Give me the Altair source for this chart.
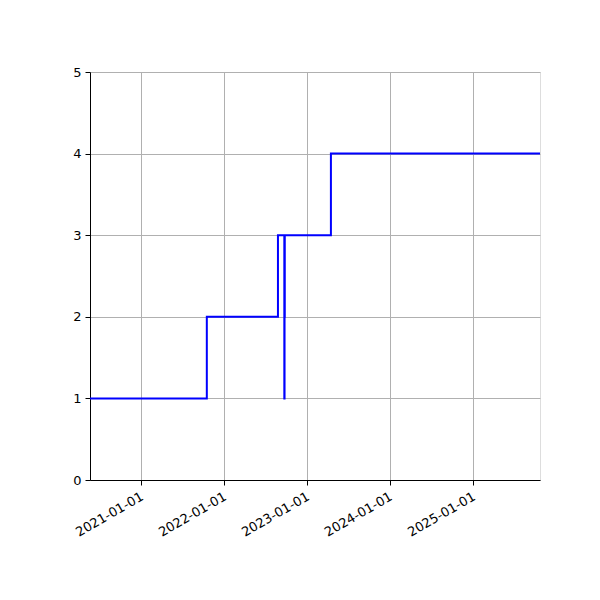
import altair as alt
import pandas as pd

dates = ["2020-05-22", "2021-10-18", "2022-08-27", "2022-09-24", "2022-09-25",
         "2022-09-26", "2023-04-17", "2025-10-23"]
values = [1, 2, 3, 1, 2, 3, 4, 4]

df = pd.DataFrame({"date": pd.to_datetime(dates), "value": values})

font = "DejaVu Sans"
x_ticks = ["2021-01-01", "2022-01-01", "2023-01-01", "2024-01-01", "2025-01-01"]
tick_vals = [alt.DateTime(year=int(d[:4]), month=1, date=1) for d in x_ticks]

chart = alt.Chart(df).mark_line(
    interpolate="step-after", color="#0000ff", strokeWidth=2, clip=True
).encode(
    x=alt.X("date:T",
            scale=alt.Scale(domain=[alt.DateTime(year=2020, month=5, date=22),
                                    alt.DateTime(year=2025, month=10, date=23)],
                            nice=False),
            axis=alt.Axis(values=tick_vals, format="%Y-%m-%d", title=None,
                          labelAngle=330, labelAlign="right", labelBaseline="top",
                          grid=True, gridColor="#b0b0b0", gridWidth=1,
                          tickColor="black", tickSize=5, domainColor="black",
                          labelColor="black", labelFont=font, labelFontSize=13,
                          labelPadding=5, labelOffset=-2)),
    y=alt.Y("value:Q",
            scale=alt.Scale(domain=[0, 5], nice=False),
            axis=alt.Axis(values=[0, 1, 2, 3, 4, 5], title=None,
                          grid=True, gridColor="#b0b0b0", gridWidth=1,
                          tickColor="black", tickSize=5, domainColor="black",
                          labelColor="black", labelFont=font, labelFontSize=13,
                          labelPadding=4)),
).properties(
    width=450, height=408,
    autosize=alt.AutoSizeParams(type="none"),
    padding={"left": 82, "top": 64, "right": 52, "bottom": 112},
).configure_view(
    stroke="black", strokeWidth=1
).configure(background="white")

chart.save("out.html", embed_options={"renderer": "svg", "actions": False})
